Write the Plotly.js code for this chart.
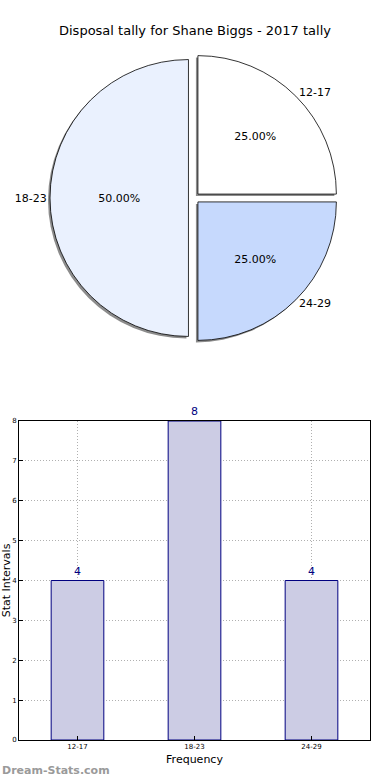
<!DOCTYPE html>
<html><head><meta charset="utf-8">
<script src="https://cdn.plot.ly/plotly-3.0.1.min.js"></script>
<style>html,body{margin:0;padding:0;background:#fff}#c{width:390px;height:780px}</style>
</head><body><div id="c"></div>
<script>
const titleText = 'Disposal tally for Shane Biggs - 2017 tally';
const categories = ['12-17', '18-23', '24-29'];
const counts = [4, 8, 4];
const pieColors = ['#ffffff', '#eaf1fe', '#c6d9fd'];
const barFill = '#ccccE4';
const barEdge = '#000080';
const yTicks = [0,1,2,3,4,5,6,7,8];

const W = 390, H = 780;
const px = x => x / W;
const py = y => 1 - y / H;
const pull = [0.04, 0.04, 0.04];
const pieDom = {x: [px(50), px(338)], y: [py(342), py(54)]};
const shadowDom = {x: [px(48), px(336)], y: [py(344), py(56)]};
const font = 'DejaVu Sans, sans-serif';

const common = {labels: categories, values: counts, type: 'pie', sort: false,
  direction: 'counterclockwise', rotation: 0, pull: pull, hoverinfo: 'none'};

const traces = [
  Object.assign({}, common, {domain: shadowDom, textinfo: 'none',
    marker: {colors: ['#8c8c8c','#8c8c8c','#8c8c8c'], line: {width: 0}}, showlegend: false}),
  Object.assign({}, common, {domain: pieDom, texttemplate: '%{percent:.2%}',
    textposition: 'inside', insidetextorientation: 'horizontal',
    textfont: {family: font, size: 11, color: '#000'},
    marker: {colors: pieColors, line: {color: '#000', width: 0.8}}, showlegend: false}),
  Object.assign({}, common, {domain: pieDom, textinfo: 'label', textposition: 'outside',
    textfont: {family: font, size: 11, color: '#000'},
    marker: {colors: ['rgba(0,0,0,0)','rgba(0,0,0,0)','rgba(0,0,0,0)'], line: {width: 0}},
    showlegend: false}),
  {type: 'bar', x: categories, y: counts, xaxis: 'x', yaxis: 'y', width: 0.45,
    marker: {color: barFill, line: {color: barEdge, width: 1}},
    text: counts.map(String), textposition: 'outside', cliponaxis: false, constraintext: 'none',
    textfont: {family: font, size: 11, color: barEdge}, hoverinfo: 'none', showlegend: false}
];

const layout = {
  width: W, height: H, margin: {l: 0, r: 0, t: 0, b: 0},
  paper_bgcolor: '#fff', plot_bgcolor: '#fff', font: {family: font, color: '#000'},
  title: {text: titleText, font: {family: font, size: 13, color: '#000'}, x: 0.5, xanchor: 'center', y: py(30), yanchor: 'middle'},
  bargap: 0,
  xaxis: {domain: [px(19), px(370)], range: [-0.5, 2.5], type: 'category',
    showline: true, mirror: true, linecolor: '#000', linewidth: 1,
    ticks: 'inside', ticklen: 4, tickcolor: '#000', tickfont: {size: 7, family: font},
    showgrid: true, gridcolor: '#b0b0b0', griddash: '1px,2px', gridwidth: 1, zeroline: false,
    title: {text: 'Frequency', font: {size: 11, family: font}, standoff: 4}, automargin: false},
  yaxis: {domain: [py(740), py(421)], range: [0, 8], tickvals: yTicks,
    showline: true, mirror: true, linecolor: '#000', linewidth: 1,
    ticks: 'inside', ticklen: 4, tickcolor: '#000', tickfont: {size: 7, family: font},
    showgrid: true, gridcolor: '#b0b0b0', griddash: '1px,2px', gridwidth: 1, zeroline: false,
    title: {text: 'Stat Intervals', font: {size: 11, family: font}, standoff: 0}, automargin: false},
  annotations: [{text: '<b>Dream-Stats.com</b>', x: 0, xref: 'paper', xanchor: 'left',
    y: py(770), yref: 'paper', yanchor: 'middle', showarrow: false,
    font: {family: font, size: 11, color: '#9a9a9a'}}]
};

Plotly.newPlot('c', traces, layout, {staticPlot: true, displayModeBar: false});
</script>
</body></html>
